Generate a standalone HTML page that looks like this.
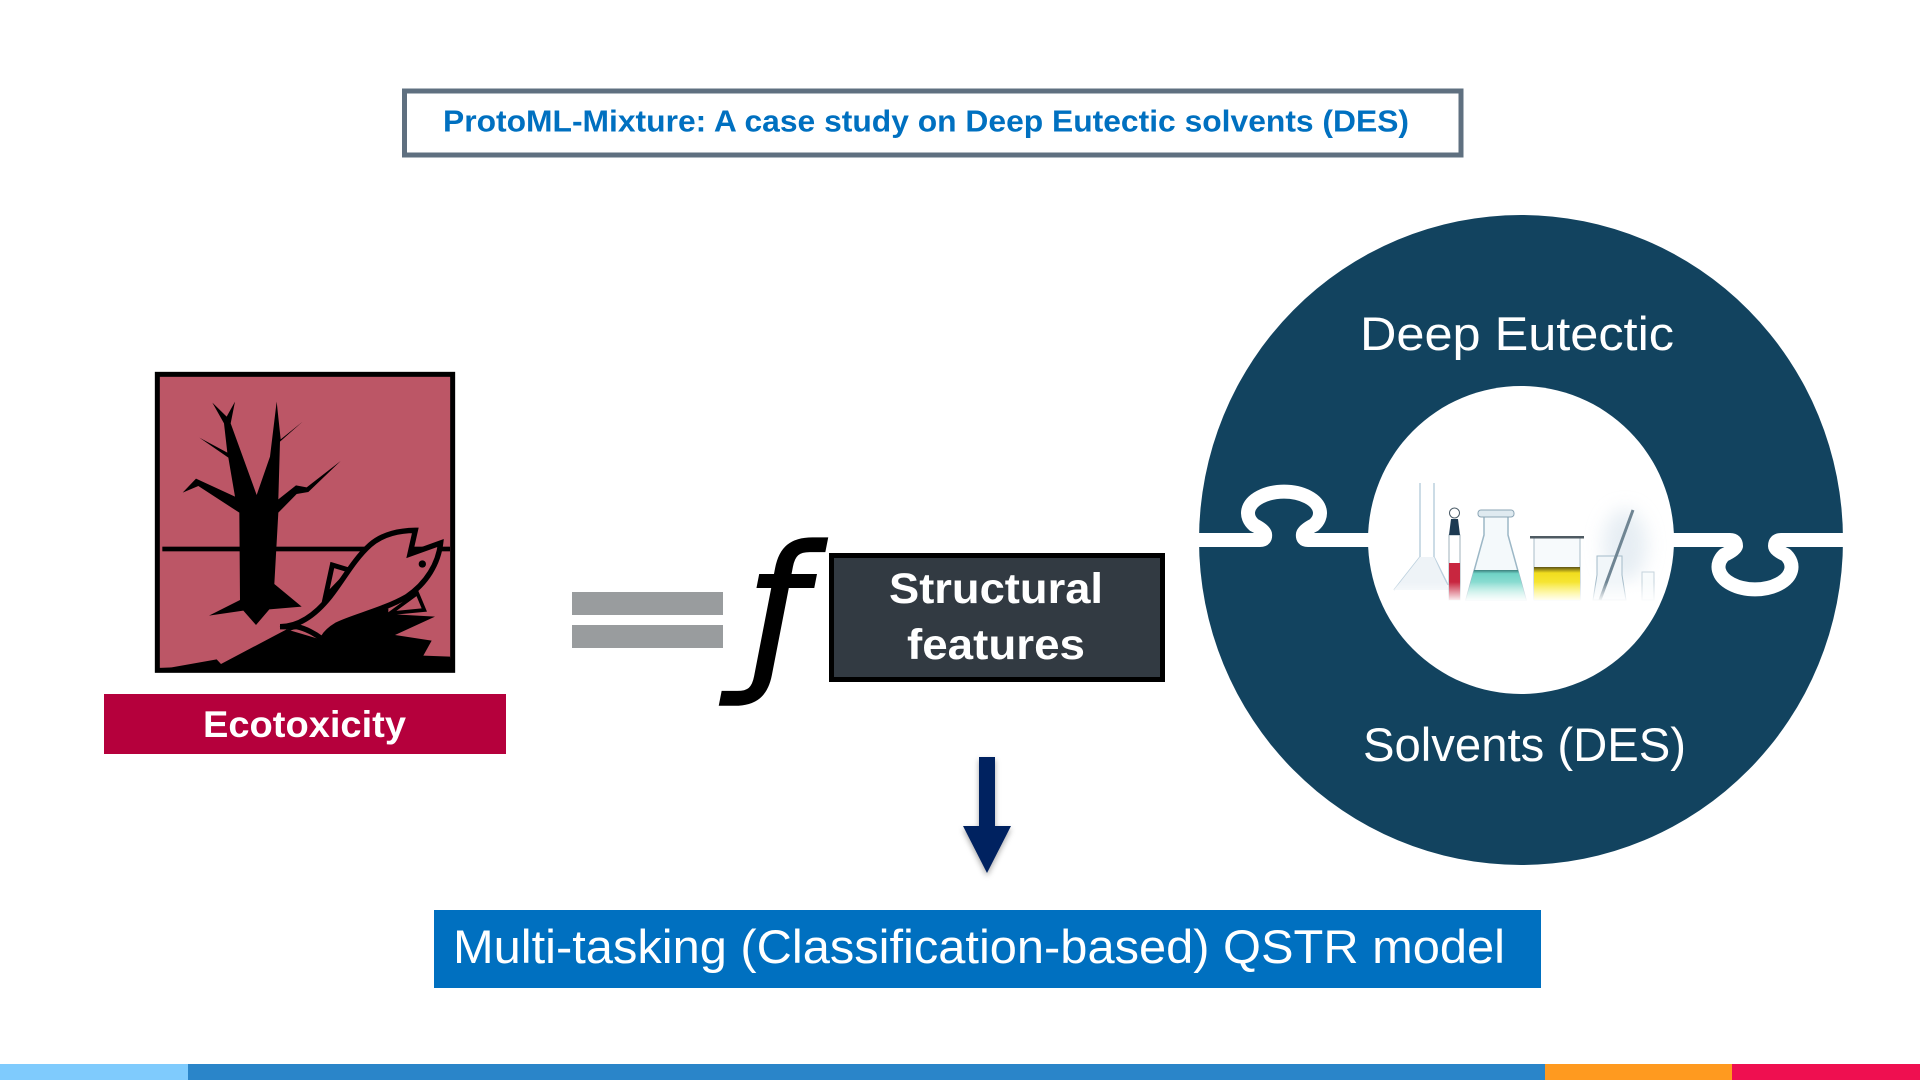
<!DOCTYPE html>
<html><head><meta charset="utf-8"><style>
html,body{margin:0;padding:0;background:#fff;width:1920px;height:1080px;overflow:hidden}
svg{display:block}
text{font-family:"Liberation Sans",sans-serif}
</style></head><body>
<svg width="1920" height="1080" viewBox="0 0 1920 1080" xmlns="http://www.w3.org/2000/svg">
<defs>
<filter id="sh" x="-50%" y="-20%" width="200%" height="140%"><feDropShadow dx="0" dy="3" stdDeviation="3" flood-color="#000" flood-opacity=".35"/></filter>
<filter id="bl" x="-50%" y="-50%" width="200%" height="200%"><feGaussianBlur stdDeviation="9"/></filter>
<linearGradient id="fade" x1="0" y1="0" x2="0" y2="1"><stop offset="0" stop-color="#fff" stop-opacity="0"/><stop offset="1" stop-color="#fff"/></linearGradient>
<linearGradient id="teal" x1="0" y1="0" x2="0" y2="1"><stop offset="0" stop-color="#3c7f7c"/><stop offset=".12" stop-color="#6fd3c6"/><stop offset="1" stop-color="#bfeee6"/></linearGradient>
<linearGradient id="yel" x1="0" y1="0" x2="0" y2="1"><stop offset="0" stop-color="#5c5215"/><stop offset=".18" stop-color="#f1dd1e"/><stop offset="1" stop-color="#fff45a"/></linearGradient>
</defs>
<rect x="404.500" y="91" width="1056.500" height="64" fill="#fff" stroke="#5f7080" stroke-width="5"/>
<text x="443" y="131.500" font-size="31" font-weight="700" fill="#0070c0" textLength="966" lengthAdjust="spacingAndGlyphs">ProtoML-Mixture: A case study on Deep Eutectic solvents (DES)</text>

<g transform="translate(140,360) scale(.33333)">
<rect x="52" y="43" width="886" height="888" fill="#bc5666" stroke="#000" stroke-width="15"/>
<rect x="67" y="560" width="863" height="14" fill="#000"/>
<polygon fill="#000" points="207,767 300,720 298,458 175,378 128,398 168,356 285,410 265,293 178,233 262,278 252,190 217,128 260,170 285,125 272,190 350,405 390,290 410,125 422,238 488,185 420,245 415,418 468,376 500,382 602,303 505,396 470,402 415,458 403,672 485,740 388,748 348,795 310,752"/>
<polygon fill="#000" points="45,925 95,922 230,898 243,912 440,808 547,840 600,790 745,745 745,762 885,770 765,825 875,842 850,887 930,890 938,931 45,931"/>
<path d="M832 700 L853 750 L750 760 Z" fill="#bc5666" stroke="#000" stroke-width="11"/>
<polygon fill="#bc5666" stroke="#000" stroke-width="15" stroke-linejoin="miter" points="577,615 633,632 556,712"/>
<path d="M420 800 C480 800 530 760 570 710 C610 660 640 600 690 555 C730 520 780 512 826 511 L810 582 L902 549 C895 610 860 670 800 710 C730 750 640 770 590 795 C570 807 555 820 547 838 C525 820 495 805 470 800 Z" fill="#bc5666" stroke="#000" stroke-width="16" stroke-linejoin="miter"/>
<polygon fill="#000" points="418,799 480,803 450,812"/>
<circle cx="847" cy="612" r="11" fill="#000"/>
</g>
<rect x="104" y="694" width="402" height="60" fill="#b5003c"/>
<text x="203" y="737" font-size="37" font-weight="700" fill="#fff" textLength="203" lengthAdjust="spacingAndGlyphs">Ecotoxicity</text>

<rect x="572" y="592" width="151" height="23" fill="#999c9e"/>
<rect x="572" y="625" width="151" height="23" fill="#999c9e"/>

<text x="747" y="669" font-size="172" font-style="italic" fill="#000" stroke="#000" stroke-width="2" style="font-family:'DejaVu Sans',sans-serif">ƒ</text>

<rect x="831.500" y="555.500" width="331" height="124" fill="#323a42" stroke="#000" stroke-width="5"/>
<text x="889" y="603" font-size="43" font-weight="700" fill="#fff" textLength="214" lengthAdjust="spacingAndGlyphs">Structural</text>
<text x="907" y="659" font-size="43" font-weight="700" fill="#fff" textLength="178" lengthAdjust="spacingAndGlyphs">features</text>

<polygon fill="#002060" filter="url(#sh)" points="979,757 995,757 995,826 1011,826 987,873 963,826 979,826"/>

<rect x="434" y="910" width="1107" height="78" fill="#0070c0"/>
<text x="453" y="963" font-size="47" fill="#fff" textLength="1052" lengthAdjust="spacingAndGlyphs">Multi-tasking (Classification-based) QSTR model</text>

<ellipse cx="1521" cy="540" rx="322" ry="325" fill="#12435f"/>
<path d="M1190 540 H1260 Q1266 540 1265 534 Q1264 530 1254 525 A36 21.500 0 1 1 1314 525 Q1304 530 1303 534 Q1302 540 1308 540 H1375" fill="none" stroke="#fff" stroke-width="14" stroke-linejoin="round"/>
<path d="M1668 540 H1730 Q1736 540 1736 546 Q1735 550 1724 555 A36.500 22.500 0 1 0 1786 555 Q1775 550 1775 546 Q1775 540 1781 540 H1852" fill="none" stroke="#fff" stroke-width="14" stroke-linejoin="round"/>
<ellipse cx="1521" cy="540" rx="153" ry="154" fill="#fff"/>

<text x="1360" y="350" font-size="47" fill="#fff" textLength="314" lengthAdjust="spacingAndGlyphs">Deep Eutectic</text>
<text x="1363" y="761" font-size="47" fill="#fff" textLength="323" lengthAdjust="spacingAndGlyphs">Solvents (DES)</text>

<!-- glassware -->
<ellipse cx="1625" cy="545" rx="22" ry="36" fill="#d3e0ea" opacity=".55" filter="url(#bl)"/>
<g fill="none" stroke="#bcd0de" stroke-width="1.500">
<path d="M1420 483 V557 L1394 590 M1434 483 V557 L1448 585"/>
</g>
<polygon points="1420,557 1434,557 1449,590 1394,590" fill="#eef3f7"/>
<rect x="1449" y="535" width="11" height="65" fill="#fff" stroke="#9fb0bb" stroke-width="1"/>
<rect x="1449" y="563" width="11" height="37" fill="#c8263f"/>
<polygon points="1451,519 1458,519 1460,535 1449,535" fill="#1c3a52"/>
<circle cx="1454.500" cy="513" r="5" fill="#fff" stroke="#4b5c68" stroke-width="1"/>
<polygon points="1484,516 1508,516 1508,535 1526,600 1466,600 1484,535" fill="#f4f9fb" stroke="#9cb7c6" stroke-width="1.500"/>
<rect x="1478" y="510" width="36" height="7" rx="3" fill="#dfeaf0" stroke="#8ba5b5" stroke-width="1"/>
<polygon points="1474,570 1518,570 1526,600 1466,600" fill="url(#teal)"/>
<rect x="1534" y="538" width="46" height="62" fill="#f7fafc" stroke="#a8bcc8" stroke-width="1"/>
<rect x="1530" y="536" width="54" height="2.500" fill="#4e5a62"/>
<rect x="1534" y="567" width="46" height="33" fill="url(#yel)"/>
<polygon points="1597,556 1622,556 1622,575 1626,600 1593,600 1597,575" fill="#f1f6f9" stroke="#a4bbc9" stroke-width="1"/>
<line x1="1633" y1="510" x2="1600" y2="600" stroke="#6f8593" stroke-width="3"/>
<rect x="1642" y="572" width="12" height="28" fill="#f8fbfc" stroke="#c5d3dc" stroke-width="1"/>
<rect x="1390" y="582" width="266" height="20" fill="url(#fade)"/>

<rect x="0" y="1064" width="188" height="16" fill="#7fcbfd"/>
<rect x="188" y="1064" width="1357" height="16" fill="#2a85c9"/>
<rect x="1545" y="1064" width="187" height="16" fill="#ff9a1f"/>
<rect x="1732" y="1064" width="188" height="16" fill="#ef0f50"/>
</svg>
</body></html>
